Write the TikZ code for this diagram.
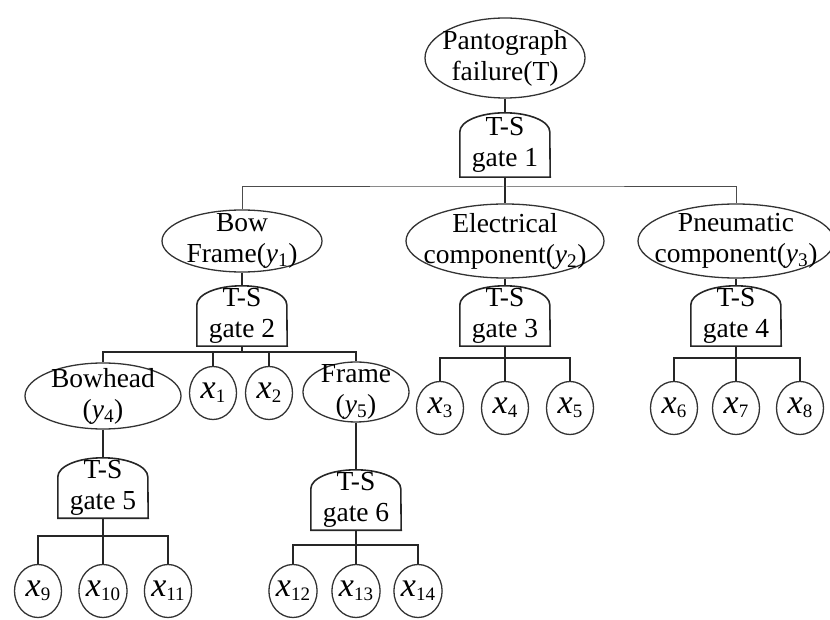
\documentclass[tikz,border=0pt]{standalone}
\usepackage{fontspec}
\setmainfont{Liberation Serif}
\usetikzlibrary{shapes.geometric}
\newcommand{\yv}[1]{\textit{y}\textsubscript{#1}}
\newcommand{\xv}[1]{{\fontsize{34}{34}\selectfont\textit{x}}\raisebox{-4pt}{\fontsize{19}{19}\selectfont #1}}

\begin{document}
\begin{tikzpicture}[x=1pt,y=1pt,font=\fontsize{27.5}{31}\selectfont,
    ev/.style={ellipse,draw=black!80,line width=1.3pt,inner sep=0pt},
    txt/.style={align=center,inner sep=0pt},
    gatebox/.style={minimum width=90pt,minimum height=60pt,inner sep=0pt,align=center},
    bev/.style={ellipse,draw=black!80,line width=1.3pt,inner sep=0pt,minimum width=47pt,minimum height=53pt},
    link/.style={black!85,line width=1.6pt},
    toplink/.style={black!70,line width=1pt}]
        \useasboundingbox (0,0) rectangle (830,619);
        % top event
        \node[ev,minimum width=160pt,minimum height=80pt,label={[txt]center:Pantograph\\failure(T)}](top)at(505,561){};
        \node[gatebox,minimum height=64pt](g1)at(505,474){T-S\\gate 1};
        % middle events
        \node[ev,minimum width=160pt,minimum height=62pt,label={[txt]center:{Bow\\Frame(\yv{1})}}](bow)at(242,378){};
        \node[ev,minimum width=198pt,minimum height=74pt,label={[txt]center:{Electrical\\component(\yv{2})}}](elec)at(505,378){};
        \node[ev,minimum width=196pt,minimum height=74pt,label={[txt]center:{Pneumatic\\component(\yv{3})}}](pneu)at(736,378){};
        \node[gatebox](g2)at(242,303){T-S\\gate 2};
        \node[gatebox](g3)at(505,303){T-S\\gate 3};
        \node[gatebox](g4)at(736,303){T-S\\gate 4};
        \node[ev,minimum width=156pt,minimum height=66pt,label={[txt]center:{Bowhead\\(\yv{4})}}](bowhead)at(103,223){};
        \node[ev,minimum width=106pt,minimum height=60pt,label={[txt]center:{Frame\\(\yv{5})}}](frame)at(356,227){};
        \node[gatebox](g5)at(103,131){T-S\\gate 5};
        \node[gatebox](g6)at(356,119){T-S\\gate 6};
        % basic events
        \node[bev](x1)at(213,226){\xv{1}};
        \node[bev](x2)at(269,226){\xv{2}};
        \node[bev](x3)at(440,211){\xv{3}};
        \node[bev](x4)at(505,211){\xv{4}};
        \node[bev](x5)at(570,211){\xv{5}};
        \node[bev](x6)at(674,211){\xv{6}};
        \node[bev](x7)at(736,211){\xv{7}};
        \node[bev](x8)at(800,211){\xv{8}};
        \node[bev](x9)at(38,28){\xv{9}};
        \node[bev](x10)at(103,28){\xv{10}};
        \node[bev](x11)at(168,28){\xv{11}};
        \node[bev](x12)at(293,28){\xv{12}};
        \node[bev](x13)at(356,28){\xv{13}};
        \node[bev](x14)at(418,28){\xv{14}};

        % gate outlines
        \foreach \g in {g1,g2,g3,g4,g5,g6}
            \draw[link](\g.south west)--([yshift=-19pt]\g.north west)arc[start angle=180,end angle=0,x radius=45pt,y radius=19pt]--(\g.south east)--cycle;

        % links
        \coordinate(b1)at(505,432);
        \coordinate(b2)at(242,267);
        \coordinate(b3)at(505,261);
        \coordinate(b4)at(736,261);
        \coordinate(b5)at(103,83);
        \coordinate(b6)at(356,74);
        \draw[link](top.south)--(g1.north);
        \draw[link](g1.south)--(elec.north);
        \draw[toplink](bow.north)|-(b1)-|(pneu.north);
        \draw[link](bow.south)--(g2.north);
        \draw[link](elec.south)--(g3.north);
        \draw[link](pneu.south)--(g4.north);
        \draw[link](g2.south)--(b2);
        \draw[link](bowhead.north)|-(b2)-|(frame.north);
        \foreach \c in {x1,x2}
            \draw[link](\c.north)--(\c.north|-b2);
        \draw[link](g3.south)--(x4.north);
        \draw[link](x3.north)|-(b3)-|(x5.north);
        \draw[link](g4.south)--(x7.north);
        \draw[link](x6.north)|-(b4)-|(x8.north);
        \draw[link](bowhead.south)--(g5.north);
        \draw[link](frame.south)--(g6.north);
        \draw[link](g5.south)--(x10.north);
        \draw[link](x9.north)|-(b5)-|(x11.north);
        \draw[link](g6.south)--(x13.north);
        \draw[link](x12.north)|-(b6)-|(x14.north);
    \end{tikzpicture}
\end{document}
